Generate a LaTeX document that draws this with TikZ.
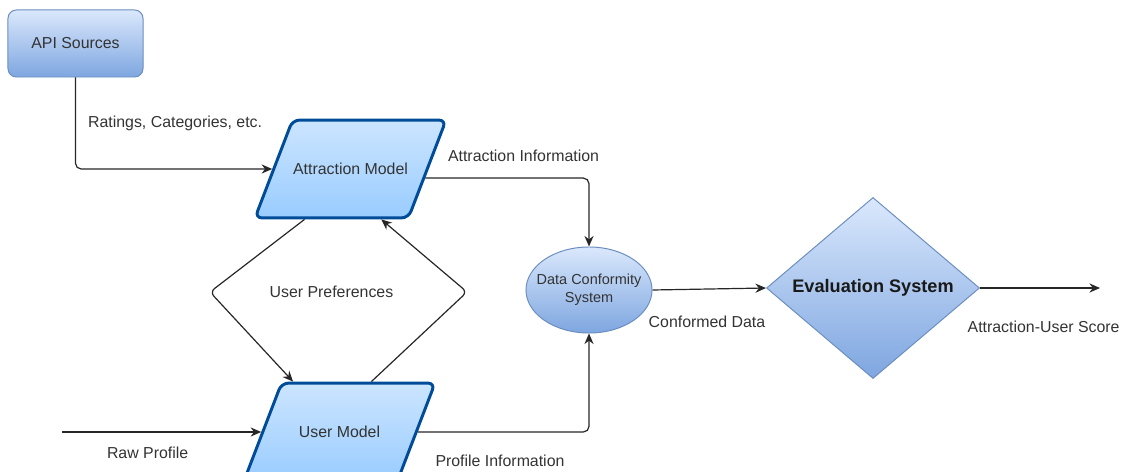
\documentclass[tikz,border=0pt]{standalone}
\usepackage{fontspec}
\setmainfont{Liberation Sans}
\usetikzlibrary{shapes.geometric, arrows.meta, positioning, calc}
\definecolor{paleBlue}{HTML}{DAE8FC}
\definecolor{midBlue}{HTML}{7EA6E0}
\definecolor{edgeBlue}{HTML}{6C8EBF}
\definecolor{modelTop}{HTML}{CCE5FF}
\definecolor{modelBottom}{HTML}{99CCFF}
\definecolor{modelEdge}{HTML}{004C99}
\definecolor{inkGray}{HTML}{333333}
\tikzset{
    box_source/.style={
        rectangle, rounded corners=6pt, draw=edgeBlue, line width=0.7pt,
        top color=paleBlue, bottom color=midBlue,
        minimum width=3.375cm, minimum height=1.675cm,
        align=center, text=inkGray, font=\fontsize{11.3}{13}\selectfont
    },
    box_model/.style={
        trapezium, trapezium left angle=69, trapezium right angle=111,
        trapezium stretches body=true, rounded corners=5pt,
        draw=modelEdge, line width=2.1pt,
        top color=modelTop, bottom color=modelBottom,
        text height=8.2pt, text depth=0pt,
        inner xsep=0pt, inner ysep=30.7pt, minimum width=4.775cm,
        align=center, text=inkGray, font=\fontsize{11.3}{13}\selectfont
    },
    box_merge/.style={
        ellipse, draw=edgeBlue, line width=0.7pt,
        top color=paleBlue, bottom color=midBlue,
        minimum width=3.15cm, minimum height=2.15cm, inner sep=0pt
    },
    box_decide/.style={
        diamond, draw=edgeBlue, line width=0.7pt,
        top color=paleBlue, bottom color=midBlue,
        minimum width=5.325cm, minimum height=4.525cm, inner sep=0pt
    },
    lbl/.style={
        font=\fontsize{11.3}{13}\selectfont, text=inkGray, inner sep=0pt
    },
    lbl_merge/.style={
        lbl, align=center, font=\fontsize{10.3}{12.5}\selectfont
    },
    lbl_decide/.style={
        lbl, text=black!90, font=\fontsize{12.9}{15}\selectfont\bfseries
    },
    flow/.style={
        -{Stealth[length=7.5pt, width=6.5pt]}, line width=0.85pt,
        draw=black!85, rounded corners=4pt
    }
}

\begin{document}
\begin{tikzpicture}[x=0.025cm, y=-0.025cm]
    \useasboundingbox (0,0) rectangle (1123,472);

    % Sources and the two models
    \node[box_source] (api) at (75.5,43.5) {API Sources};
    \node[box_model] (attr) at (350.5,169) {Attraction Model};
    \node[box_model] (user) at (339.5,432) {User Model};

    % Conformity and evaluation
    \node[box_merge, label={[lbl_merge]center:Data Conformity\\System}] (conform) at (589,290) {};
    \node[box_decide, label={[lbl_decide]center:Evaluation System}] (eval) at (873,288) {};

    % Free ends and bends
    \coordinate (rawin) at (62,432);
    \coordinate (scoreout) at (1100,288);
    \coordinate (prefL) at (210,292);
    \coordinate (prefR) at (467,292);

    % API -> Attraction Model
    \draw[flow] (api.south) |- node[lbl, pos=0.25, right=0.3cm] {Ratings, Categories, etc.} (attr.left side);

    % Attraction Model -> Data Conformity
    \draw[flow] ($(attr.top right corner)!0.59!(attr.bottom right corner)$) -| node[lbl, pos=0.3, above=0.4cm] {Attraction Information} (conform.north);

    % User preferences loop
    \draw[flow] ($(attr.bottom left corner)!0.33!(attr.bottom right corner)$) -- (prefL) node[lbl, right=1.475cm] {User Preferences} -- ($(user.top left corner)!0.08!(user.top right corner)$);
    \draw[flow] ($(user.top left corner)!0.58!(user.top right corner)$) -- (prefR) -- ($(attr.bottom left corner)!0.82!(attr.bottom right corner)$);

    % Raw profile in, profile out
    \draw[flow] (rawin) -- node[lbl, pos=0.43, below=0.36cm] {Raw Profile} (user.left side);
    \draw[flow] (user.right side) -| node[lbl, pos=0.24, below=0.55cm] {Profile Information} (conform.south);

    % Conformed data -> evaluation -> score
    \draw[flow] (conform.east) -- node[lbl, pos=0.48, below=0.67cm] {Conformed Data} (eval.west);
    \draw[flow] (eval.east) -- node[lbl, pos=0.53, below=0.8cm] {Attraction-User Score} (scoreout);
\end{tikzpicture}
\end{document}
